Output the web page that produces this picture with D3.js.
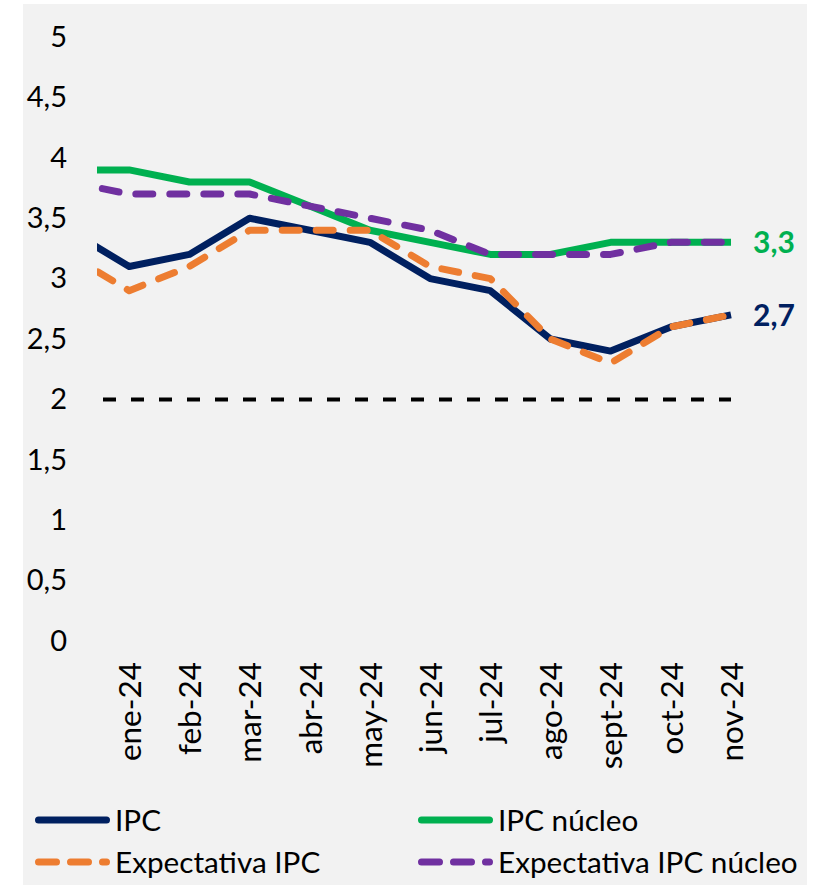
<!DOCTYPE html>
<html>
<head>
<meta charset="utf-8">
<script src="https://cdn.jsdelivr.net/npm/d3@7"></script>
<style>
body { margin: 0; background: #ffffff; }
text { font-family: Lato, "Open Sans", sans-serif; fill: #000000; }
</style>
</head>
<body>
<svg id="chart" width="820" height="885"></svg>
<script>
// dic-23 sits outside the plot area, only its segment to ene-24 is visible
var months = ["dic-23", "ene-24", "feb-24", "mar-24", "abr-24", "may-24", "jun-24",
              "jul-24", "ago-24", "sept-24", "oct-24", "nov-24"];
var ipc = [3.4, 3.1, 3.2, 3.5, 3.4, 3.3, 3.0, 2.9, 2.5, 2.4, 2.6, 2.7];
var ipcNucleo = [3.9, 3.9, 3.8, 3.8, 3.6, 3.4, 3.3, 3.2, 3.2, 3.3, 3.3, 3.3];
var expIpc = [3.2, 2.9, 3.1, 3.4, 3.4, 3.4, 3.1, 3.0, 2.5, 2.3, 2.6, 2.7];
var expNucleo = [3.8, 3.7, 3.7, 3.7, 3.6, 3.5, 3.4, 3.2, 3.2, 3.2, 3.3, 3.3];
var meta = [2, 2, 2, 2, 2, 2, 2, 2, 2, 2, 2, 2];
var yTicks = [0, 0.5, 1, 1.5, 2, 2.5, 3, 3.5, 4, 4.5, 5];

var NAVY = "#002060";
var GREEN = "#00b050";
var ORANGE = "#ed7d31";
var PURPLE = "#7030a0";

var svg = d3.select("#chart");

svg.append("rect")
    .attr("x", 23).attr("y", 4)
    .attr("width", 784).attr("height", 881)
    .attr("fill", "#f2f2f2");

var x = d3.scalePoint().domain(months).range([69, 731]);
var y = d3.scaleLinear().domain([0, 5]).range([641, 37]);

svg.append("clipPath").attr("id", "plot-clip")
    .append("rect")
    .attr("x", 97).attr("y", 0)
    .attr("width", 700).attr("height", 700);

// y axis: labels only
var yAxis = d3.axisLeft(y)
    .tickValues(yTicks)
    .tickSize(0)
    .tickPadding(0)
    .tickFormat(function (d) { return String(d).replace(".", ","); });

var yG = svg.append("g")
    .attr("transform", "translate(67,0)")
    .call(yAxis);
yG.select(".domain").remove();
yG.selectAll("text")
    .style("font-family", "Lato, sans-serif")
    .style("font-size", "29px")
    .attr("fill", "#000");

// x axis: rotated labels under the plot
var xAxis = d3.axisBottom(x)
    .tickValues(months.slice(1))
    .tickSize(0)
    .tickPadding(0);

var xG = svg.append("g")
    .attr("transform", "translate(0,662)")
    .call(xAxis);
xG.select(".domain").remove();
xG.selectAll("text")
    .style("font-family", "Lato, sans-serif")
    .style("font-size", "31.5px")
    .attr("fill", "#000")
    .attr("text-anchor", "end")
    .attr("transform", "rotate(-90)")
    .attr("x", 0)
    .attr("y", 0)
    .attr("dy", "0.36em");

var line = d3.line()
    .x(function (d, i) { return x(months[i]); })
    .y(function (d) { return y(d); });

var plot = svg.append("g").attr("clip-path", "url(#plot-clip)");

// target at 2
plot.append("path")
    .datum(meta)
    .attr("d", line)
    .attr("fill", "none")
    .attr("stroke", "#000")
    .attr("stroke-width", 4)
    .attr("stroke-dasharray", "13,15")
    .attr("stroke-dashoffset", -6);

var series = [
    { name: "IPC", values: ipc, color: NAVY, dash: null },
    { name: "IPC núcleo", values: ipcNucleo, color: GREEN, dash: null },
    { name: "Expectativa IPC", values: expIpc, color: ORANGE, dash: "17,17" },
    { name: "Expectativa IPC núcleo", values: expNucleo, color: PURPLE, dash: "17,17" }
];

// draw order: solid lines under the dashed ones
series.forEach(function (s) {
    var p = plot.append("path")
        .datum(s.values)
        .attr("d", line)
        .attr("fill", "none")
        .attr("stroke", s.color)
        .attr("stroke-width", 7)
        .attr("stroke-linejoin", "round");
    if (s.dash) {
        p.attr("stroke-dasharray", s.dash)
         .attr("stroke-linecap", "round");
    }
});

// end labels
var last = months.length - 1;
[[ipcNucleo, GREEN], [ipc, NAVY]].forEach(function (d) {
    svg.append("text")
        .attr("x", x(months[last]) + 22)
        .attr("y", y(d[0][last]))
        .attr("dy", "0.36em")
        .style("font-size", "30px")
        .style("font-weight", "bold")
        .style("fill", d[1])
        .text(String(d[0][last]).replace(".", ","));
});

// legend, two columns
var legendPos = [[35, 820], [418, 820], [35, 862], [418, 862]];
series.forEach(function (s, i) {
    var g = svg.append("g")
        .attr("transform", "translate(" + legendPos[i][0] + "," + legendPos[i][1] + ")");
    var l = g.append("line")
        .attr("x1", 3.5).attr("x2", 71.5)
        .attr("y1", 0).attr("y2", 0)
        .attr("stroke", s.color)
        .attr("stroke-width", 7)
        .attr("stroke-linecap", "round");
    if (s.dash) l.attr("stroke-dasharray", "18,14");
    g.append("text")
        .attr("x", 80)
        .attr("y", 0)
        .attr("dy", "0.36em")
        .style("font-size", "29.7px")
        .text(s.name);
});
</script>
</body>
</html>
